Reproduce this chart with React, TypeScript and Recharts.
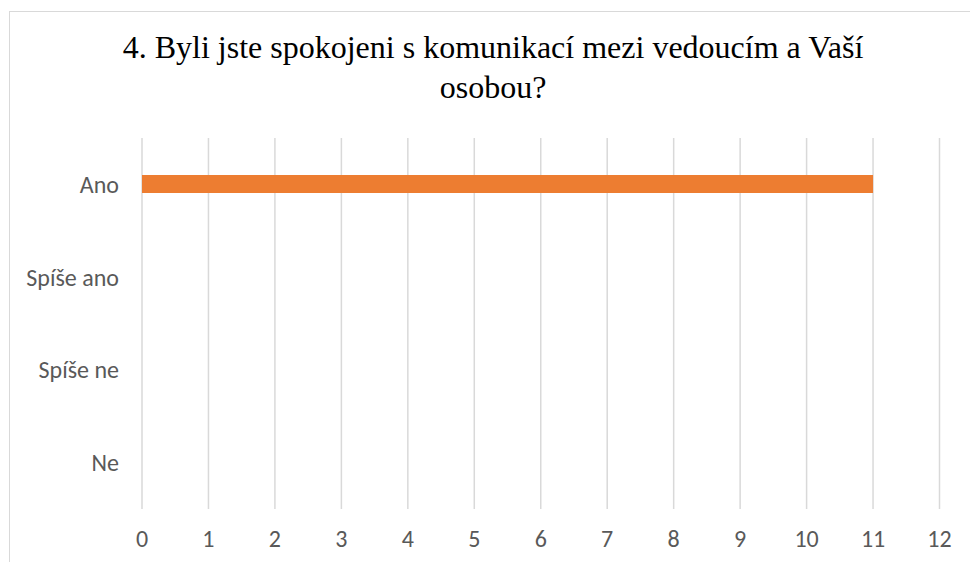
import React from 'react'
import { BarChart, Bar, XAxis, YAxis, CartesianGrid } from 'recharts'

const categories = ['Ano', 'Spíše ano', 'Spíše ne', 'Ne']
const answers = [11, 0, 0, 0]
const xTicks = [0, 1, 2, 3, 4, 5, 6, 7, 8, 9, 10, 11, 12]

const titleLines = ['4. Byli jste spokojeni s komunikací mezi vedoucím a Vaší', 'osobou?']

const data = categories.map((name, i) => ({ name, value: answers[i] }))

const tickStyle = { fill: '#595959', fontSize: 24, fontFamily: "Carlito, 'Open Sans', sans-serif" }

const App = () => {
    return (
        <div style={{ position: 'absolute', left: 0, top: 0, width: 970, height: 562, overflow: 'hidden', background: '#fff' }}>
            <div style={{ position: 'absolute', left: 9, top: 11, width: 1000, height: 600, border: '1px solid #d9d9d9' }} />
            <svg width={970} height={120} style={{ position: 'absolute', left: 0, top: 0 }}>
                {titleLines.map((line, i) => (
                    <text
                        key={i}
                        x={493}
                        y={58 + i * 40}
                        textAnchor="middle"
                        fontFamily="'Liberation Serif', 'Times New Roman', serif"
                        fontSize={32}
                        fill="#000"
                    >
                        {line}
                    </text>
                ))}
            </svg>
            <div style={{ position: 'absolute', left: 0, top: 0 }}>
                <BarChart
                    width={970}
                    height={562}
                    data={data}
                    layout="vertical"
                    margin={{ top: 138, right: 30.5, bottom: 0, left: 0 }}
                >
                    <CartesianGrid horizontal={false} stroke="#d9d9d9" strokeWidth={1.5} />
                    <XAxis
                        type="number"
                        domain={[0, 12]}
                        ticks={xTicks}
                        interval={0}
                        axisLine={false}
                        tickLine={false}
                        tickMargin={15}
                        height={53}
                        tick={tickStyle}
                    />
                    <YAxis
                        type="category"
                        dataKey="name"
                        width={142}
                        axisLine={false}
                        tickLine={false}
                        tickMargin={17}
                        tick={tickStyle}
                    />
                    <Bar dataKey="value" fill="#ed7d31" barSize={18} isAnimationActive={false} />
                </BarChart>
            </div>
        </div>
    )
}

export default App
